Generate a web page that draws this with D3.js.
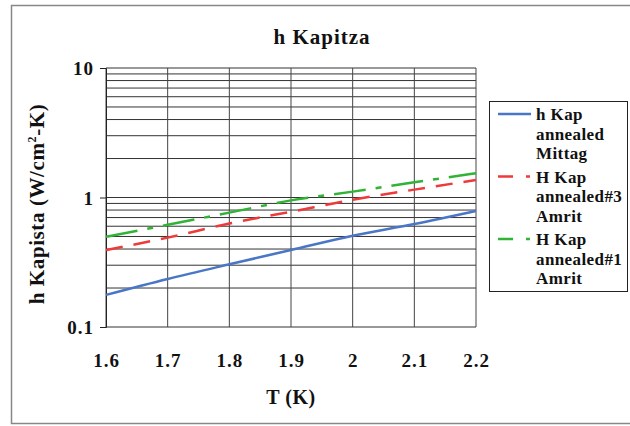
<!DOCTYPE html>
<html>
<head>
<meta charset="UTF-8">
<title>h Kapitza</title>
<script src="https://cdn.jsdelivr.net/npm/d3@7"></script>
<style>
    body { margin: 0; background: #fff; }
    text { font-family: "Liberation Serif", "Times New Roman", serif; font-weight: bold; fill: #111; }
</style>
</head>
<body>
<script>
    // data
    var temps = [1.6, 1.7, 1.8, 1.9, 2.0, 2.1, 2.2];
    var mittag = [0.177, 0.235, 0.305, 0.393, 0.507, 0.624, 0.787];
    var amrit3 = [0.393, 0.49, 0.63, 0.776, 0.96, 1.15, 1.365];
    var amrit1 = [0.498, 0.615, 0.764, 0.95, 1.11, 1.31, 1.54];
    var seriesNames = [["h Kap", "annealed", "Mittag"], ["H Kap", "annealed#3", "Amrit"], ["H Kap", "annealed#1", "Amrit"]];
    var xTicks = [1.6, 1.7, 1.8, 1.9, 2.0, 2.1, 2.2];
    var yTicks = [0.1, 1, 10];

    var width = 630, height = 426;
    var plot = {left: 106, right: 476, top: 68, bottom: 327};

    var svg = d3.select("body").append("svg")
        .attr("width", width)
        .attr("height", height);

    // outer frame
    svg.append("rect")
        .attr("x", 11.5).attr("y", 5.5)
        .attr("width", 620).attr("height", 418)
        .style("fill", "none").style("stroke", "#888").style("stroke-width", 1.5);

    var x = d3.scaleLinear().domain([1.6, 2.2]).range([plot.left, plot.right]);
    var y = d3.scaleLog().domain([0.1, 10]).range([plot.bottom, plot.top]);

    // horizontal grid (log minor lines)
    var minor = [];
    [0.1, 1].forEach(function(dec) {
        for (var k = 1; k <= 10; k++) minor.push(dec * k);
    });
    svg.append("g").selectAll("line").data(minor).enter().append("line")
        .attr("x1", plot.left).attr("x2", plot.right)
        .attr("y1", function(d) { return y(d); })
        .attr("y2", function(d) { return y(d); })
        .style("stroke", "#333").style("stroke-width", 1);

    // vertical grid
    svg.append("g").selectAll("line").data(xTicks).enter().append("line")
        .attr("x1", function(d) { return x(d); })
        .attr("x2", function(d) { return x(d); })
        .attr("y1", plot.top).attr("y2", plot.bottom)
        .style("stroke", "#444").style("stroke-width", 1);

    // y axis
    var yAxis = svg.append("g")
        .attr("transform", "translate(" + plot.left + ",0)")
        .call(d3.axisLeft(y).tickValues(yTicks).tickSize(6).tickPadding(6)
            .tickFormat(function(d) { return d === 0.1 ? "0.1" : String(d); }));
    yAxis.select(".domain").style("stroke", "#222");
    yAxis.selectAll("line").style("stroke", "#222");
    yAxis.selectAll("text").style("font-size", "19px").style("font-family", "Liberation Serif")
        .style("font-weight", "bold").style("letter-spacing", "1px").attr("dy", "0.35em");

    // x axis (labels only)
    var xAxis = svg.append("g")
        .attr("transform", "translate(0," + plot.bottom + ")")
        .call(d3.axisBottom(x).tickValues(xTicks).tickSize(0).tickPadding(27)
            .tickFormat(function(d) { return d === 2 ? "2" : d3.format(".1f")(d); }));
    xAxis.select(".domain").remove();
    xAxis.selectAll("text").style("font-size", "19px").style("font-family", "Liberation Serif")
        .style("font-weight", "bold").style("letter-spacing", "1px");

    // series
    var line = d3.line()
        .x(function(d, i) { return x(temps[i]); })
        .y(function(d) { return y(d); })
        .curve(d3.curveMonotoneX);

    var styles = [
        {data: mittag, color: "#4a76c6", dash: null},
        {data: amrit3, color: "#ee3a3a", dash: "17,11"},
        {data: amrit1, color: "#31b336", dash: "32,10,6,10"}
    ];

    svg.append("g").selectAll("path").data(styles).enter().append("path")
        .attr("d", function(d) { return line(d.data); })
        .style("fill", "none")
        .style("stroke", function(d) { return d.color; })
        .style("stroke-width", 2.5)
        .style("stroke-dasharray", function(d) { return d.dash; });

    // title
    svg.append("text")
        .attr("x", 322).attr("y", 44)
        .attr("text-anchor", "middle")
        .style("font-size", "21px").style("letter-spacing", "1px")
        .text("h Kapitza");

    // axis titles
    svg.append("text")
        .attr("x", 291).attr("y", 404)
        .attr("text-anchor", "middle")
        .style("font-size", "20px").style("letter-spacing", "0.5px")
        .text("T (K)");

    var yt = svg.append("text")
        .attr("transform", "translate(44,204) rotate(-90)")
        .attr("text-anchor", "middle")
        .style("font-size", "21px").style("letter-spacing", "0.6px");
    yt.append("tspan").text("h Kapista (W/cm");
    yt.append("tspan").attr("dy", -8).style("font-size", "12px").text("2");
    yt.append("tspan").attr("dy", 8).text("-K)");

    // legend
    var legend = svg.append("g");
    legend.append("rect")
        .attr("x", 489.5).attr("y", 101.5)
        .attr("width", 138).attr("height", 190)
        .style("fill", "#fff").style("stroke", "#222").style("stroke-width", 1);

    var item = legend.selectAll("g.item").data(styles).enter().append("g")
        .attr("class", "item")
        .attr("transform", function(d, i) { return "translate(0," + (114 + i * 62.5) + ")"; });

    item.append("line")
        .attr("x1", 498).attr("x2", 531).attr("y1", 0).attr("y2", 0)
        .style("stroke", function(d) { return d.color; })
        .style("stroke-width", 2.5)
        .style("stroke-dasharray", function(d, i) { return i === 0 ? null : "15,13,4,10"; });

    item.each(function(d, i) {
        var t = d3.select(this).append("text")
            .attr("x", 536).attr("y", 6)
            .style("font-size", "17px").style("letter-spacing", "0.4px");
        seriesNames[i].forEach(function(s, j) {
            t.append("tspan").attr("x", 536).attr("dy", j === 0 ? 0 : 19.5).text(s);
        });
    });
</script>
</body>
</html>
